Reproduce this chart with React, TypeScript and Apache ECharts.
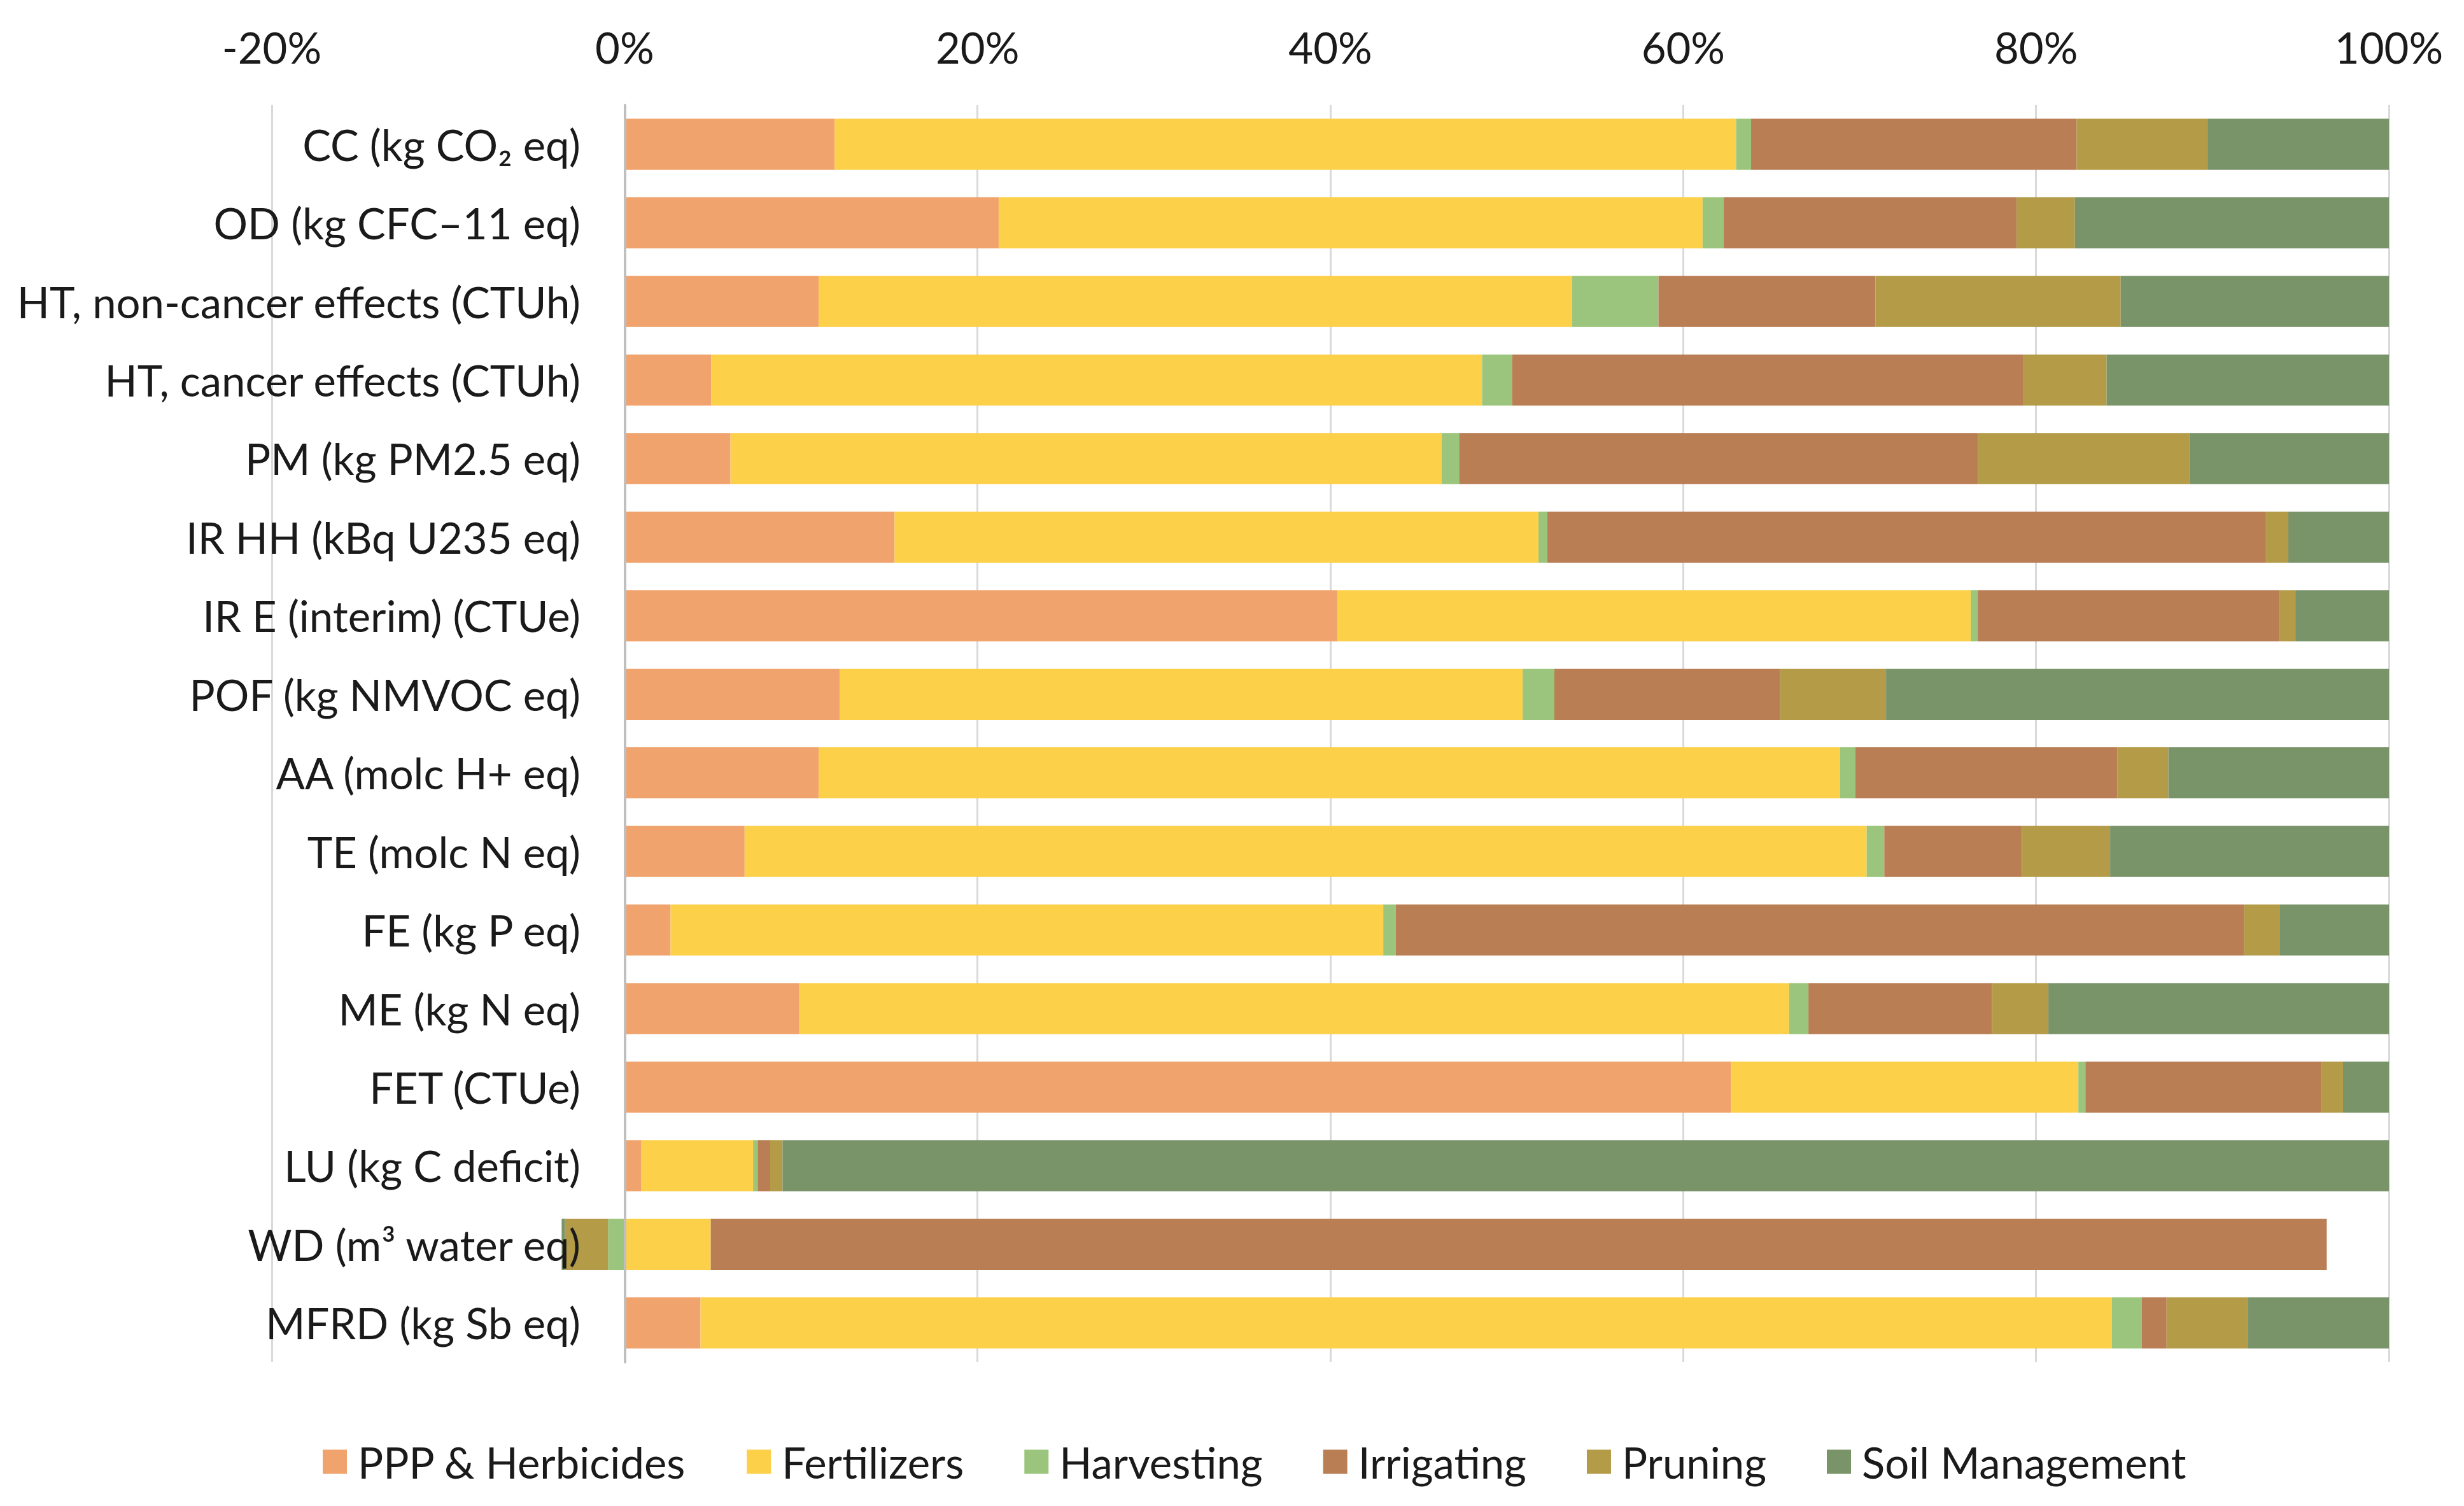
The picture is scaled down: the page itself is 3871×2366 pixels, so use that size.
import React, { useEffect, useRef } from "react";
import * as echarts from "echarts";

const categories = [
  "CC (kg CO₂ eq)",
  "OD (kg CFC–11 eq)",
  "HT, non-cancer effects (CTUh)",
  "HT, cancer effects (CTUh)",
  "PM (kg PM2.5 eq)",
  "IR HH (kBq U235 eq)",
  "IR E (interim) (CTUe)",
  "POF (kg NMVOC eq)",
  "AA (molc H+ eq)",
  "TE (molc N eq)",
  "FE (kg P eq)",
  "ME (kg N eq)",
  "FET (CTUe)",
  "LU (kg C deficit)",
  "WD (m³ water eq)",
  "MFRD (kg Sb eq)",
];

const seriesNames = ["PPP & Herbicides", "Fertilizers", "Harvesting", "Irrigating", "Pruning", "Soil Management"];
const seriesColors = ["#F0A36D", "#FDD04A", "#9BC57C", "#B97E54", "#B49B47", "#7A946A"];

// percentages per category (same order as categories)
const ppp = [11.9, 21.2, 11.0, 4.9, 6.0, 15.3, 40.4, 12.2, 11.0, 6.8, 2.6, 9.9, 62.7, 0.95, 0, 4.3];
const fertilizers = [51.1, 39.9, 42.7, 43.7, 40.3, 36.5, 35.9, 38.7, 57.9, 63.6, 40.4, 56.1, 19.7, 6.33, 4.88, 80.0];
const harvesting = [0.85, 1.2, 4.9, 1.7, 1.0, 0.5, 0.4, 1.8, 0.85, 1.0, 0.7, 1.1, 0.4, 0.26, -0.94, 1.7];
const irrigating = [18.45, 16.6, 12.3, 29.0, 29.4, 40.7, 17.1, 12.8, 14.85, 7.8, 48.1, 10.4, 13.4, 0.71, 91.6, 1.4];
const pruning = [7.4, 3.3, 13.9, 4.7, 12.0, 1.3, 0.9, 6.0, 2.9, 5.0, 2.0, 3.2, 1.2, 0.7, -2.45, 4.6];
const soilManagement = [10.3, 17.8, 15.2, 16.0, 11.3, 5.7, 5.3, 28.5, 12.5, 15.8, 6.2, 19.3, 2.6, 91.05, -0.18, 8.0];

const seriesData = [ppp, fertilizers, harvesting, irrigating, pruning, soilManagement];

const tickMin = -20;
const tickMax = 100;
const tickInterval = 20;

const FONT = "Lato, 'Liberation Sans', sans-serif";
const TEXT_COLOR = "#1a1a1a";

export default function App() {
  const ref = useRef<HTMLDivElement>(null);
  useEffect(() => {
    document.body.style.margin = "0";
    if (!ref.current) return;
    const chart = echarts.init(ref.current, undefined, { renderer: "svg" });
    chart.setOption({
      animation: false,
      backgroundColor: "#ffffff",
      textStyle: { fontFamily: FONT },
      grid: {
        left: 427,
        right: 118,
        top: 165,
        bottom: 226,
        containLabel: false,
        outerBoundsMode: "none",
      },
      legend: {
        data: seriesNames,
        left: 502,
        top: 2258,
        itemWidth: 38,
        itemHeight: 38,
        itemGap: 95,
        icon: "rect",
        textStyle: { fontSize: 67, color: TEXT_COLOR, fontFamily: FONT, padding: [0, 0, 0, 12] },
      },
      xAxis: {
        type: "value",
        position: "top",
        min: tickMin,
        max: tickMax,
        interval: tickInterval,
        axisLine: { show: false },
        axisTick: { show: false },
        splitLine: { show: true, lineStyle: { color: "#D9D9D9", width: 3 } },
        axisLabel: {
          fontSize: 67,
          color: TEXT_COLOR,
          fontFamily: FONT,
          margin: 58,
          formatter: (v: number) => `${v}%`,
        },
      },
      yAxis: {
        type: "category",
        data: categories,
        inverse: true,
        z: 10,
        axisLine: { show: true, onZero: true, lineStyle: { color: "#BFBFBF", width: 4 } },
        axisTick: { show: false },
        splitLine: { show: false },
        axisLabel: { fontSize: 67, color: TEXT_COLOR, fontFamily: FONT, margin: -485 },
      },
      series: seriesNames.map((name, i) => ({
        name,
        type: "bar",
        stack: "total",
        z: 1,
        barWidth: "65%",
        itemStyle: { color: seriesColors[i] },
        data: seriesData[i],
      })),
    });
    return () => chart.dispose();
  }, []);
  return <div ref={ref} style={{ position: "fixed", left: 0, top: 0, width: 3871, height: 2366 }} />;
}
